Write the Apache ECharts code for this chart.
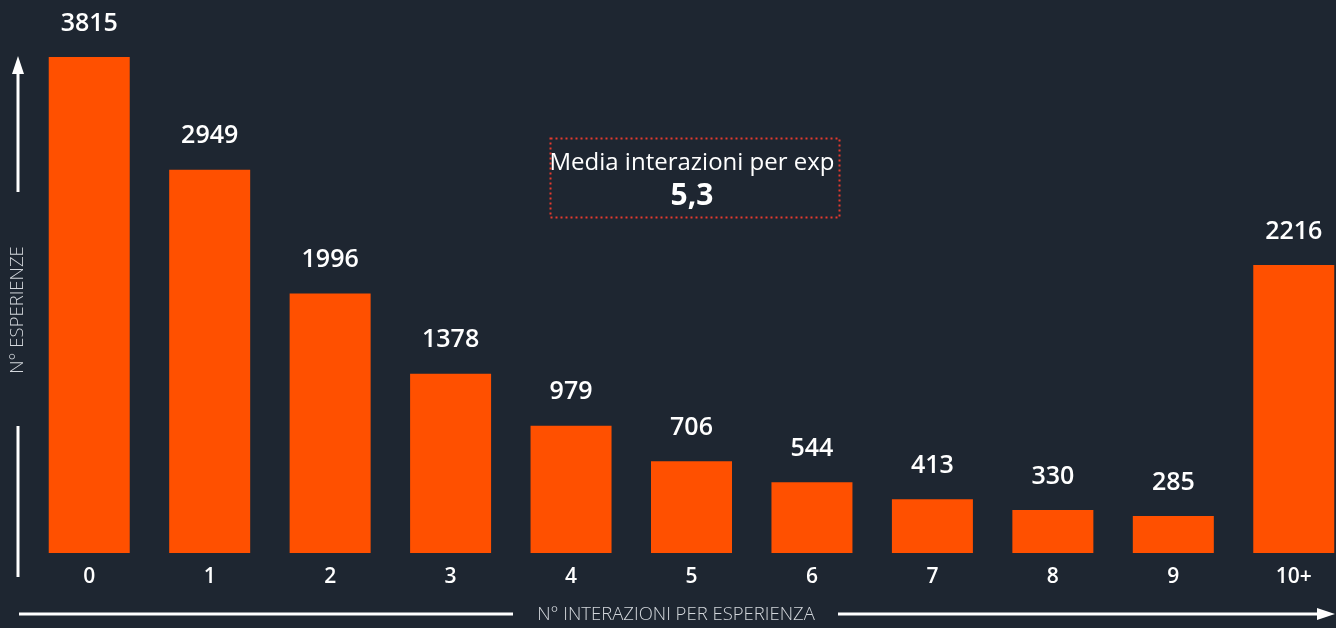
<!DOCTYPE html>
<html>
<head>
<meta charset="utf-8">
<script src="https://cdn.jsdelivr.net/npm/echarts@6/dist/echarts.min.js"></script>
<style>
  html, body { margin: 0; padding: 0; background: #1e2631; }
  #chart { width: 1336px; height: 628px; }
</style>
</head>
<body>
<div id="chart"></div>
<script>
const categories = ['0', '1', '2', '3', '4', '5', '6', '7', '8', '9', '10+'];
const values = [3815, 2949, 1996, 1378, 979, 706, 544, 413, 330, 285, 2216];
const yTitle = 'N° ESPERIENZE';
const xTitle = 'N° INTERAZIONI PER ESPERIENZA';
const mediaLabel = 'Media interazioni per exp';
const mediaValue = '5,3';

const chart = echarts.init(document.getElementById('chart'));
const font = '"Open Sans", "Noto Sans", sans-serif';
const white = '#ffffff';
const grey = '#d3d7dc';

let option = {
    backgroundColor: '#1e2631',
    animation: false,
    grid: {
        left: 29,
        top: 33,
        right: -18, // l'ultima barra arriva al bordo
        bottom: 75,
        containLabel: false,
        outerBoundsMode: 'none'
    },
    xAxis: {
        type: 'category',
        data: categories,
        axisLine: { show: false },
        axisTick: { show: false },
        axisLabel: {
            color: white,
            fontSize: 21,
            fontWeight: 600,
            fontFamily: font,
            margin: 14
        }
    },
    yAxis: {
        type: 'value',
        min: 0,
        max: 4000,
        show: false,
        splitLine: { show: false }
    },
    series: [
        {
            type: 'bar',
            data: values,
            barWidth: 81,
            itemStyle: { color: '#ff5000' },
            label: {
                show: true,
                position: 'top',
                distance: 21,
                color: white,
                fontSize: 25,
                fontWeight: 600,
                fontFamily: font
            }
        }
    ],
    graphic: [
        // asse verticale
        { type: 'line', shape: { x1: 18, y1: 70, x2: 18, y2: 192 }, style: { stroke: white, lineWidth: 3 } },
        { type: 'polygon', shape: { points: [[18, 56], [12, 74], [24, 74]] }, style: { fill: white } },
        { type: 'line', shape: { x1: 18, y1: 426, x2: 18, y2: 577 }, style: { stroke: white, lineWidth: 3 } },
        {
            type: 'text', x: 18, y: 310, rotation: Math.PI / 2,
            style: {
                text: yTitle, fill: grey, fontSize: 18.5, fontWeight: 300, fontFamily: font,
                align: 'center', verticalAlign: 'middle'
            }
        },
        // asse orizzontale
        { type: 'line', shape: { x1: 19, y1: 614, x2: 513, y2: 614 }, style: { stroke: white, lineWidth: 3 } },
        { type: 'line', shape: { x1: 838, y1: 614, x2: 1320, y2: 614 }, style: { stroke: white, lineWidth: 3 } },
        { type: 'polygon', shape: { points: [[1335, 614], [1317, 608], [1317, 620]] }, style: { fill: white } },
        {
            type: 'text', x: 676, y: 615,
            style: {
                text: xTitle, fill: grey, fontSize: 18.5, fontWeight: 300, fontFamily: font,
                align: 'center', verticalAlign: 'middle'
            }
        },
        // box media
        {
            type: 'rect', shape: { x: 550.5, y: 138.5, width: 289, height: 79 },
            style: { fill: 'none', stroke: '#e53a2f', lineWidth: 2, lineDash: [2, 3] }
        },
        {
            type: 'text', x: 692, y: 163,
            style: {
                text: mediaLabel, fill: white, fontSize: 24, fontFamily: font,
                align: 'center', verticalAlign: 'middle'
            }
        },
        {
            type: 'text', x: 692, y: 196,
            style: {
                text: mediaValue, fill: white, fontSize: 30, fontWeight: 'bold', fontFamily: font,
                align: 'center', verticalAlign: 'middle'
            }
        }
    ]
};
option && chart.setOption(option);
</script>
</body>
</html>
